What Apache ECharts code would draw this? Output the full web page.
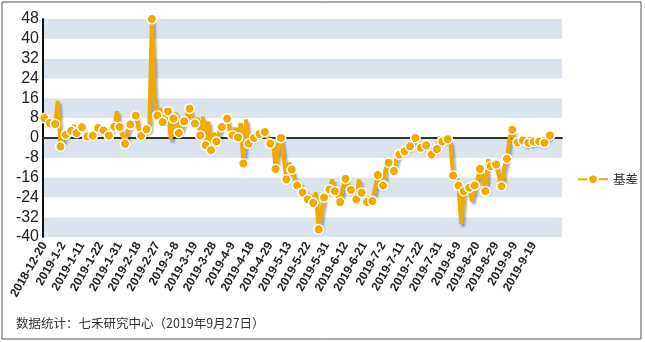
<!DOCTYPE html>
<html><head><meta charset="utf-8">
<script src="https://cdn.jsdelivr.net/npm/echarts@6/dist/echarts.min.js"></script>
<style>html,body{margin:0;padding:0;background:#fff}#c{width:645px;height:342px}</style>
</head><body><div id="c"></div>
<script>
const dates = [
'2018-12-20','2018-12-21','2018-12-24','2018-12-25','2018-12-26','2018-12-27','2018-12-28',
'2019-1-2','2019-1-3','2019-1-4','2019-1-7','2019-1-8','2019-1-9','2019-1-10','2019-1-11','2019-1-14','2019-1-15','2019-1-16','2019-1-17','2019-1-18','2019-1-21','2019-1-22','2019-1-23','2019-1-24','2019-1-25','2019-1-28','2019-1-29','2019-1-30','2019-1-31',
'2019-2-1','2019-2-11','2019-2-12','2019-2-13','2019-2-14','2019-2-15','2019-2-18','2019-2-19','2019-2-20','2019-2-21','2019-2-22','2019-2-25','2019-2-26','2019-2-27','2019-2-28',
'2019-3-1','2019-3-4','2019-3-5','2019-3-6','2019-3-7','2019-3-8','2019-3-11','2019-3-12','2019-3-13','2019-3-14','2019-3-15','2019-3-18','2019-3-19','2019-3-20','2019-3-21','2019-3-22','2019-3-25','2019-3-26','2019-3-27','2019-3-28','2019-3-29',
'2019-4-1','2019-4-2','2019-4-3','2019-4-4','2019-4-8','2019-4-9','2019-4-10','2019-4-11','2019-4-12','2019-4-15','2019-4-16','2019-4-17','2019-4-18','2019-4-19','2019-4-22','2019-4-23','2019-4-24','2019-4-25','2019-4-26','2019-4-29','2019-4-30',
'2019-5-6','2019-5-7','2019-5-8','2019-5-9','2019-5-10','2019-5-13','2019-5-14','2019-5-15','2019-5-16','2019-5-17','2019-5-20','2019-5-21','2019-5-22','2019-5-23','2019-5-24','2019-5-27','2019-5-28','2019-5-29','2019-5-30','2019-5-31',
'2019-6-3','2019-6-4','2019-6-5','2019-6-6','2019-6-10','2019-6-11','2019-6-12','2019-6-13','2019-6-14','2019-6-17','2019-6-18','2019-6-19','2019-6-20','2019-6-21','2019-6-24','2019-6-25','2019-6-26','2019-6-27','2019-6-28',
'2019-7-1','2019-7-2','2019-7-3','2019-7-4','2019-7-5','2019-7-8','2019-7-9','2019-7-10','2019-7-11','2019-7-12','2019-7-15','2019-7-16','2019-7-17','2019-7-18','2019-7-19','2019-7-22','2019-7-23','2019-7-24','2019-7-25','2019-7-26','2019-7-29','2019-7-30','2019-7-31',
'2019-8-1','2019-8-2','2019-8-5','2019-8-6','2019-8-7','2019-8-8','2019-8-9','2019-8-12','2019-8-13','2019-8-14','2019-8-15','2019-8-16','2019-8-19','2019-8-20','2019-8-21','2019-8-22','2019-8-23','2019-8-26','2019-8-27','2019-8-28','2019-8-29','2019-8-30',
'2019-9-2','2019-9-3','2019-9-4','2019-9-5','2019-9-6','2019-9-9','2019-9-10','2019-9-11','2019-9-12','2019-9-16','2019-9-17','2019-9-18','2019-9-19','2019-9-20','2019-9-23','2019-9-24','2019-9-25','2019-9-26','2019-9-27'
];
const padCategories = ['', '', '', ''];
const basis = [
8,7,6,5.8,5.6,15,-3.5,0,1.3,3,
2.9,5,2,4.4,4.3,3,0.6,2,0.9,3,
4,2.3,3,1.5,0.9,4,4.5,10.7,4.4,1,
-2.4,3,5.4,7,9,4,0.9,2,3.5,3.3,
48,14,9,12,6.4,8,10.7,-0.7,7.8,10,
2,4,6.7,9,11.8,8,5.8,8,1,8.5,
-3,6.5,-5,2,-1.4,2.5,4.4,6,7.8,3,
1,4,0.2,6,-10.3,7.4,-2.3,0,0,2.7,
1.6,3,2.4,0,-2.3,-1,-12.5,-3,0,-8,
-16.8,-10,-12.8,-16,-19.2,-18,-22,-21,-24.8,-23,
-26.2,-22,-36.9,-30,-24.1,-21,-20.8,-16.8,-21.5,-23,
-25.9,-20,-16.5,-19,-21,-23,-24.8,-16.8,-22.1,-24,
-25.9,-24,-25.5,-20,-15,-17,-19.2,-12,-10,-12,
-13.4,-8,-6.7,-5.5,-5.4,-4,-3.4,-2,0,-1.5,
-4,-3.4,-3,-4,-6.7,-5,-4.5,0.4,-1.4,-1,
-0.5,-2,-15.2,-16,-19.2,-34.7,-21.5,-20,-20.1,-25.5,
-19.2,-17,-12.5,-16,-21.5,-8.7,-11.4,-11,-10.7,-15,
-19.5,-12,-8.4,0,3.3,-1.5,-1.8,0,-1,-2.7,
-2,-2.3,-1.5,-1.8,-1.4,-2.3,-2,0,1
];
const yTicks = {min: -40, max: 48, step: 8};
const seriesName = '基差';
const footnote = '数据统计：七禾研究中心（2019年9月27日）';

const cats = dates.concat(padCategories);
const ORANGE = '#F2A900';
const chart = echarts.init(document.getElementById('c'), null, {renderer: 'canvas'});
chart.setOption({
  animation: false,
  backgroundColor: '#fff',
  grid: {left: 43, right: 83, top: 19, bottom: 105, containLabel: false},
  graphic: [
    {type: 'rect', shape: {x: 2, y: 2, width: 639, height: 337}, style: {fill: 'none', stroke: '#555', lineWidth: 1}, z: 100, silent: true},
    {type: 'text', left: 16, top: 317, style: {text: footnote, fill: '#333', font: '12.5px "Noto Sans CJK SC", sans-serif'}}
  ],
  legend: {
    data: [seriesName], orient: 'vertical', left: 572, top: 168,
    itemWidth: 30, itemHeight: 12, itemGap: 8,
    textStyle: {color: '#333', fontSize: 12.5, fontFamily: '"Noto Sans CJK SC", sans-serif'}
  },
  xAxis: [
    {
      type: 'category', data: cats, boundaryGap: true,
      axisLine: {show: false, onZero: false}, axisTick: {show: false},
      axisLabel: {
        rotate: 60, margin: 6, color: '#222', fontSize: 12, fontWeight: 'bold', fontFamily: 'Liberation Sans, Arial, sans-serif',
        interval: function (i) { return i % 7 === 0 && i < dates.length; }
      },
      splitLine: {show: false}
    },
    {
      type: 'category', data: cats, boundaryGap: true, position: 'bottom',
      axisLine: {show: true, onZero: true, lineStyle: {color: '#333', width: 2}},
      axisTick: {show: false}, axisLabel: {show: false}, splitLine: {show: false}
    }
  ],
  yAxis: {
    type: 'value', min: yTicks.min, max: yTicks.max, interval: yTicks.step,
    axisLine: {show: true, lineStyle: {color: '#111', width: 2}},
    axisTick: {show: false},
    axisLabel: {color: '#222', fontSize: 16, margin: 4, fontFamily: 'Liberation Sans, Arial, sans-serif'},
    splitLine: {show: false},
    splitArea: {show: true, areaStyle: {color: ['#D9E4EF', '#FFFFFF']}}
  },
  series: [{
    name: seriesName, type: 'line', data: basis, xAxisIndex: 0,
    showSymbol: true, showAllSymbol: true,
    symbol: function (v, p) { return p.dataIndex % 2 === 0 ? 'circle' : 'none'; },
    symbolSize: 9.5,
    lineStyle: {color: ORANGE, width: 4, shadowColor: 'rgba(0,0,0,0.3)', shadowBlur: 2, shadowOffsetX: 2, shadowOffsetY: 3},
    itemStyle: {color: ORANGE, borderColor: '#fff', borderWidth: 1.5},
    z: 3
  }]
});
</script>
</body></html>
